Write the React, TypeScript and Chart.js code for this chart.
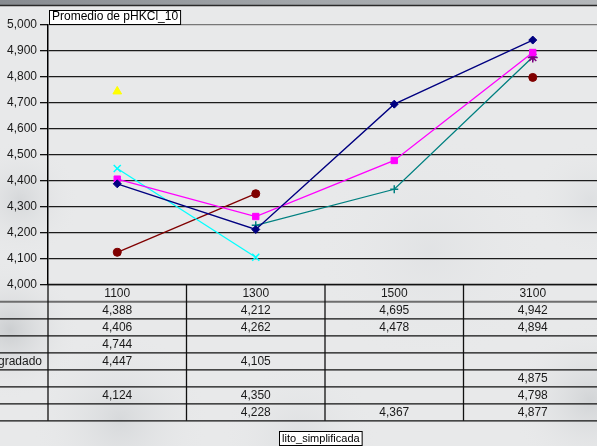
import React, { useEffect, useRef } from "react";
import { Chart, registerables } from "chart.js";

Chart.register(...registerables);

const categories = ["1100", "1300", "1500", "3100"];
const seriesNames = ["", "", "", "gradado", "", "", ""];
const s1 = [4.388, 4.212, 4.695, 4.942];
const s2 = [4.406, 4.262, 4.478, 4.894];
const s3 = [4.744, null, null, null];
const s4 = [4.447, 4.105, null, null];
const s5 = [null, null, null, 4.875];
const s6 = [4.124, 4.35, null, 4.798];
const s7 = [null, 4.228, 4.367, 4.877];
const allSeries = [s1, s2, s3, s4, s5, s6, s7];
const colors = ["#000080", "#ff00ff", "#ffff00", "#00ffff", "#800080", "#800000", "#008080"];
const pointStyles = ["rectRot", "rect", "triangle", "crossRot", "star", "circle", "cross"];
const pointRadii = [4, 4.5, 5, 5, 5, 4, 4];
const yTicksMin = 4;
const yTicksMax = 5;
const yStep = 0.1;
const chartTitle = "Promedio de pHKCl_10";
const axisTitle = "lito_simplificada";

const W = 610;
const H = 446;
const FONT = "'Liberation Sans', Arial, sans-serif";

const fmt = (v: number) => v.toFixed(3).replace(".", ",");

const bgPlugin = {
  id: "bg",
  beforeDraw(chart: any) {
    const ctx = chart.ctx;
    ctx.save();
    ctx.fillStyle = "#e8e9ea";
    ctx.fillRect(0, 0, W, H);
    const blobs = [
      [10, 330, 70, "rgba(150,155,160,0.35)"],
      [20, 200, 60, "rgba(170,175,180,0.3)"],
      [120, 420, 90, "rgba(175,180,185,0.3)"],
      [590, 400, 80, "rgba(160,165,170,0.3)"],
      [590, 200, 60, "rgba(190,195,200,0.25)"],
      [430, 250, 120, "rgba(205,208,212,0.25)"],
      [300, 440, 80, "rgba(185,190,195,0.25)"],
    ];
    for (const [x, y, r, c] of blobs as any) {
      const g = ctx.createRadialGradient(x, y, 0, x, y, r);
      g.addColorStop(0, c);
      g.addColorStop(1, "rgba(232,233,234,0)");
      ctx.fillStyle = g;
      ctx.fillRect(x - r, y - r, 2 * r, 2 * r);
    }
    const tg = ctx.createLinearGradient(0, 0, W, 0);
    tg.addColorStop(0, "#878b90");
    tg.addColorStop(0.5, "#a3a7ab");
    tg.addColorStop(1, "#b5b8bb");
    ctx.fillStyle = tg;
    ctx.fillRect(0, 0, W, 5);
    ctx.strokeStyle = "#2a2a2a";
    ctx.lineWidth = 1.5;
    ctx.beginPath();
    ctx.moveTo(0, 5.5);
    ctx.lineTo(W, 5.5);
    ctx.stroke();
    ctx.restore();
  },
};

const tablePlugin = {
  id: "table",
  afterDraw(chart: any) {
    const ctx = chart.ctx;
    const area = chart.chartArea;
    const xs = chart.scales.x;
    const n = categories.length;
    const colW = (area.right - area.left) / n;
    const top = area.bottom;
    const headerH = 17.3;
    const rowH = 17;
    const rows = allSeries.length;
    const bottom = top + headerH + rows * rowH;
    ctx.save();
    ctx.strokeStyle = "#6e6e6e";
    ctx.lineWidth = 2;
    ctx.beginPath();
    ctx.moveTo(0, top + headerH);
    ctx.lineTo(W, top + headerH);
    ctx.stroke();
    ctx.strokeStyle = "#111";
    ctx.lineWidth = 1.3;
    for (let r = 1; r <= rows; r++) {
      const y = top + headerH + r * rowH;
      ctx.beginPath();
      ctx.moveTo(0, y);
      ctx.lineTo(W, y);
      ctx.stroke();
    }
    ctx.beginPath();
    ctx.moveTo(area.left, top);
    ctx.lineTo(W, top);
    ctx.stroke();
    for (let i = 0; i <= n; i++) {
      const x = area.left + i * colW;
      ctx.beginPath();
      ctx.moveTo(x, top);
      ctx.lineTo(x, bottom);
      ctx.stroke();
    }
    ctx.fillStyle = "#1a1a1a";
    ctx.font = `12px ${FONT}`;
    ctx.textAlign = "center";
    ctx.textBaseline = "middle";
    categories.forEach((c, i) => {
      ctx.fillText(c, xs.getPixelForValue(i), top + headerH / 2 + 0.5);
    });
    allSeries.forEach((s, r) => {
      const yc = top + headerH + r * rowH + rowH / 2 + 0.5;
      s.forEach((v, i) => {
        if (v == null) return;
        ctx.fillText(fmt(v), xs.getPixelForValue(i), yc);
      });
    });
    ctx.textAlign = "right";
    seriesNames.forEach((name, r) => {
      if (!name) return;
      const yc = top + headerH + r * rowH + rowH / 2 + 0.5;
      ctx.fillText(name, area.left - 6, yc);
    });
    // title box
    ctx.textAlign = "left";
    ctx.font = `12px ${FONT}`;
    const tw = ctx.measureText(chartTitle).width;
    ctx.fillStyle = "#fff";
    ctx.fillRect(49.5, 10.5, tw + 5, 14);
    ctx.strokeStyle = "#000";
    ctx.lineWidth = 1;
    ctx.strokeRect(49.5, 10.5, tw + 5, 14);
    ctx.fillStyle = "#000";
    ctx.fillText(chartTitle, 52, 17);
    // axis title box
    ctx.font = `11px ${FONT}`;
    const aw = ctx.measureText(axisTitle).width;
    const ax = 279.5;
    ctx.fillStyle = "#fff";
    ctx.fillRect(ax, 431.5, aw + 5, 14);
    ctx.strokeRect(ax, 431.5, aw + 5, 14);
    ctx.fillStyle = "#000";
    ctx.fillText(axisTitle, ax + 2.5, 438.5);
    ctx.restore();
  },
};

export default function App() {
  const ref = useRef<HTMLCanvasElement>(null);
  useEffect(() => {
    if (!ref.current) return;
    const chart = new Chart(ref.current, {
      type: "line",
      data: {
        labels: categories,
        datasets: allSeries.map((s, i) => ({
          label: seriesNames[i] || `Serie ${i + 1}`,
          data: s,
          borderColor: colors[i],
          backgroundColor: colors[i],
          borderWidth: 1.3,
          pointStyle: pointStyles[i] as any,
          pointRadius: pointRadii[i],
          pointBorderColor: colors[i],
          pointBackgroundColor: colors[i],
          pointBorderWidth: pointStyles[i] === "crossRot" || pointStyles[i] === "cross" || pointStyles[i] === "star" ? 1.5 : 1,
          spanGaps: false,
          tension: 0,
          fill: false,
        })),
      },
      options: {
        animation: false,
        responsive: false,
        devicePixelRatio: 1,
        layout: { padding: { left: 0, top: 25, right: W - 602, bottom: H - 284.5 } },
        plugins: { legend: { display: false }, tooltip: { enabled: false }, title: { display: false } },
        scales: {
          x: { type: "category", display: false, offset: true },
          y: {
            min: yTicksMin,
            max: yTicksMax,
            afterFit: (s: any) => {
              s.width = 48;
            },
            ticks: {
              stepSize: yStep,
              color: "#1a1a1a",
              font: { family: FONT, size: 12 },
              padding: 3,
              callback: (v: any) => fmt(Number(v)),
            },
            grid: {
              color: (c: any) => (c.index === 10 ? "#777" : "#1c1c1c"),
              lineWidth: 1.3,
              drawTicks: true,
              tickLength: 8,
              tickColor: "#111",
            },
            border: { display: true, color: "#000", width: 1.5 },
          },
        },
      },
      plugins: [bgPlugin, tablePlugin],
    });
    return () => chart.destroy();
  }, []);
  return (
    <div style={{ position: "fixed", left: 0, top: 0, width: 597, height: 446, overflow: "hidden" }}>
      <canvas ref={ref} width={W} height={H} style={{ display: "block", width: W, height: H }} />
    </div>
  );
}
